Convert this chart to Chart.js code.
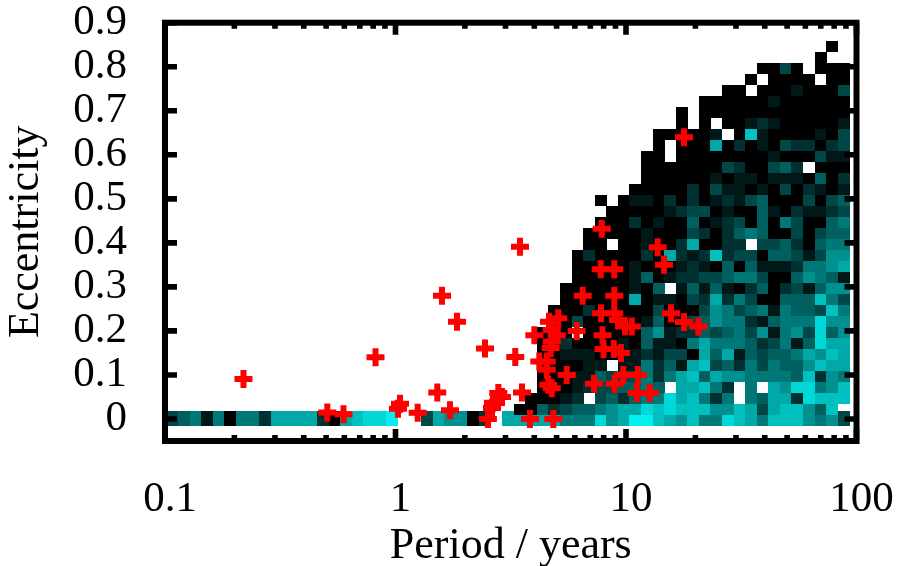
<!DOCTYPE html>
<html><head><meta charset="utf-8">
<style>html,body{margin:0;padding:0;background:#fff}canvas{display:block}</style>
<script src="https://cdn.jsdelivr.net/npm/chart.js@4"></script>
</head><body><canvas id="c" width="898" height="566"></canvas>
<script>
// Period tick labels and eccentricity ticks
const periodTicks = [0.1, 1, 10, 100];
const periodMinor = [0.2,0.3,0.4,0.5,0.6,0.7,0.8,0.9,2,3,4,5,6,7,8,9,20,30,40,50,60,70,80,90];
const eccTicks = [0,0.1,0.2,0.3,0.4,0.5,0.6,0.7,0.8,0.9];
// Density read per log-period bin, 0 (black) to a (bright cyan), '.' = empty.
const zeroEccRow = "3451505527"+"777207899a"+"..376602.7"+"7777555967"+"aa87685598"+"758886563";
// Rows for increasing eccentricity bin, right-aligned to the last period bin.
const densityRows = [
"0042344567798988866873788648.",
"00012.342455978525.547729888",
"00012334454.77852.5.7699568",
"000114333525784766555548265",
"000011.11524178342535446877",
"001110011213307471434457687",
"002000010411057555423514977",
"000.00000461224345361563946",
"00300000140034655214555966",
"00020000030003653451544385",
"0000007011032725300444853",
"000000104.141410240231466",
"000001401223345530046541",
"000001000121040411125567",
"020000207212823304431366",
"00.00100270022.33420455",
"00000100032024540030344",
"0002010040123040530045",
"000001233010041021123",
"0.01102020121340003034",
"0000020311010302101",
"000000101101110402",
"00000003200342.000",
"00.000000001000311",
"0.000702010322023",
"000001.0810000103",
"0.0.00121000001",
"0.0000000000000",
"0000001000000",
"00.00010003",
"0.0000.00",
"0030.000",
"0..",
"0."
];
// Known planets
const planetPeriod = [0.219,0.506,0.595,0.819,1.046,1.025,1.248,1.518,1.723,1.591,1.848,2.445,3.308,3.468,2.517,2.648,2.622,2.793,2.897,3.538,3.832,4.838,4.002,4.634,5.085,4.762,5.004,4.762,4.714,4.206,4.529,4.529,4.601,4.762,5.531,6.112,6.49,7.847,13.72,14.62,7.768,8.896,8.896,7.79,8.896,9.23,9.9,10.6,15.67,17.85,20.6,7.91,7.99,8.85,9.51,9.73,11.25,7.26,8.93,11.13,12.67,17.85];
const planetEcc = [0.091,0.015,0.011,0.14,0.0345,0.023,0.014,0.06,0.02,0.28,0.221,0.16,0.1405,0.391,0,0.037,0.025,0.059,0.05,0.06,0,0,0.19,0.221,0.229,0.202,0.19,0.176,0.161,0.1305,0.1305,0.112,0.078,0.07,0.1,0.2,0.28,0.432,0.39,0.35,0.34,0.34,0.28,0.24,0.24,0.225,0.21,0.21,0.24,0.22,0.21,0.19,0.159,0.159,0.15,0.1,0.1,0.08,0.08,0.059,0.059,0.64];

const binCount = zeroEccRow.length, binEdge0 = -0.9926, binLog = 0.05021;
const eccBin = 0.02497, eccShift = 0.00295, zeroHalf = 0.017;
const periodOf = j => Math.pow(10, binEdge0 + (j + 0.5) * binLog);
function cellsFrom(str, ecc){
  const pts = [], off = binCount - str.length;
  for (let i = 0; i < str.length; i++){
    if (str[i] === '.') continue;
    pts.push({x: periodOf(i + off), y: ecc, level: parseInt(str[i], 36)});
  }
  return pts;
}
const zeroCells = cellsFrom(zeroEccRow, 0);
let upperCells = [];
densityRows.forEach((s, idx) => { upperCells = upperCells.concat(cellsFrom(s, (idx + 1) * eccBin - eccShift)); });

const cache = {};
function cellImage(ctx, halfEcc){
  const ch = ctx.chart, sx = ch.scales.x, sy = ch.scales.y;
  const w = Math.ceil(sx.getPixelForValue(periodOf(1)) - sx.getPixelForValue(periodOf(0)));
  const h = Math.round(sy.getPixelForValue(-halfEcc) - sy.getPixelForValue(halfEcc));
  const lv = ctx.raw ? ctx.raw.level : 0, key = w + '_' + h + '_' + lv;
  if (!cache[key]){
    const cv = document.createElement('canvas'); cv.width = w; cv.height = h;
    const g = cv.getContext('2d'), v = lv * 24;
    g.fillStyle = 'rgb(0,' + v + ',' + v + ')'; g.fillRect(0, 0, w, h);
    cache[key] = cv;
  }
  return cache[key];
}

const framePlugin = { id: 'frame', afterDatasetsDraw(chart){
  const g = chart.ctx, a = chart.chartArea, sx = chart.scales.x, sy = chart.scales.y;
  g.save(); g.strokeStyle = '#000'; g.lineCap = 'butt'; g.lineWidth = 5.6; g.beginPath();
  const vt = (v, len) => { const p = sx.getPixelForValue(v);
    g.moveTo(p, a.bottom); g.lineTo(p, a.bottom - len); g.moveTo(p, a.top); g.lineTo(p, a.top + len); };
  periodTicks.forEach(v => vt(v, 12)); periodMinor.forEach(v => vt(v, 6));
  eccTicks.forEach(v => { const p = sy.getPixelForValue(v);
    g.moveTo(a.left, p); g.lineTo(a.left + 12, p); g.moveTo(a.right, p); g.lineTo(a.right - 12, p); });
  g.stroke();
  g.lineWidth = 6; g.lineJoin = 'miter'; g.strokeRect(a.left, a.top, a.right - a.left, a.bottom - a.top);
  g.restore();
}};
const noMargins = s => { s.paddingLeft = s.paddingRight = s.paddingTop = s.paddingBottom = 0; };

const serif = '"Liberation Serif", serif';
new Chart(document.getElementById('c'), {
  type: 'scatter',
  data: { datasets: [
    { label: 'circular', data: zeroCells, order: 3, pointStyle: c => cellImage(c, zeroHalf), pointRadius: 6, pointHoverRadius: 6, clip: false },
    { label: 'eccentric', data: upperCells, order: 2, pointStyle: c => cellImage(c, 0.0125), pointRadius: 6, pointHoverRadius: 6, clip: false },
    { label: 'planets', data: planetPeriod.map((p, i) => ({x: p, y: planetEcc[i]})), order: 1,
      pointStyle: 'cross', pointRadius: 9, pointBorderWidth: 6, borderWidth: 6, borderColor: '#ff0000', backgroundColor: '#ff0000', clip: false }
  ]},
  plugins: [framePlugin],
  options: {
    responsive: false, animation: false, events: [],
    layout: { padding: { top: 22.7, right: 41.5, left: 0, bottom: 0 } },
    plugins: { legend: { display: false }, tooltip: { enabled: false } },
    scales: {
      x: { type: 'logarithmic', min: 0.1, max: 100, position: 'bottom',
        afterFit: s => { s.height = 125; noMargins(s); },
        afterBuildTicks: s => { s.ticks = periodTicks.map(v => ({value: v, major: true})); },
        grid: { display: false }, border: { display: false },
        ticks: { color: '#000', font: { family: serif, size: 43 }, padding: 25, autoSkip: false, maxRotation: 0, labelOffset: 5,
          callback: v => String(v) },
        title: { display: true, text: 'Period / years', color: '#000', font: { family: serif, size: 44 }, padding: { top: 0, bottom: -7 } } },
      y: { type: 'linear', min: -0.05, max: 0.9,
        afterFit: s => { s.width = 165; noMargins(s); },
        afterBuildTicks: s => { s.ticks = eccTicks.map(v => ({value: v})); },
        grid: { display: false }, border: { display: false },
        ticks: { color: '#000', font: { family: serif, size: 43 }, padding: 30, autoSkip: false,
          callback: v => String(v) },
        title: { display: true, text: 'Eccentricity', color: '#000', font: { family: serif, size: 44 }, padding: { top: 0, bottom: 0 } } }
    }
  }
});
</script></body></html>
